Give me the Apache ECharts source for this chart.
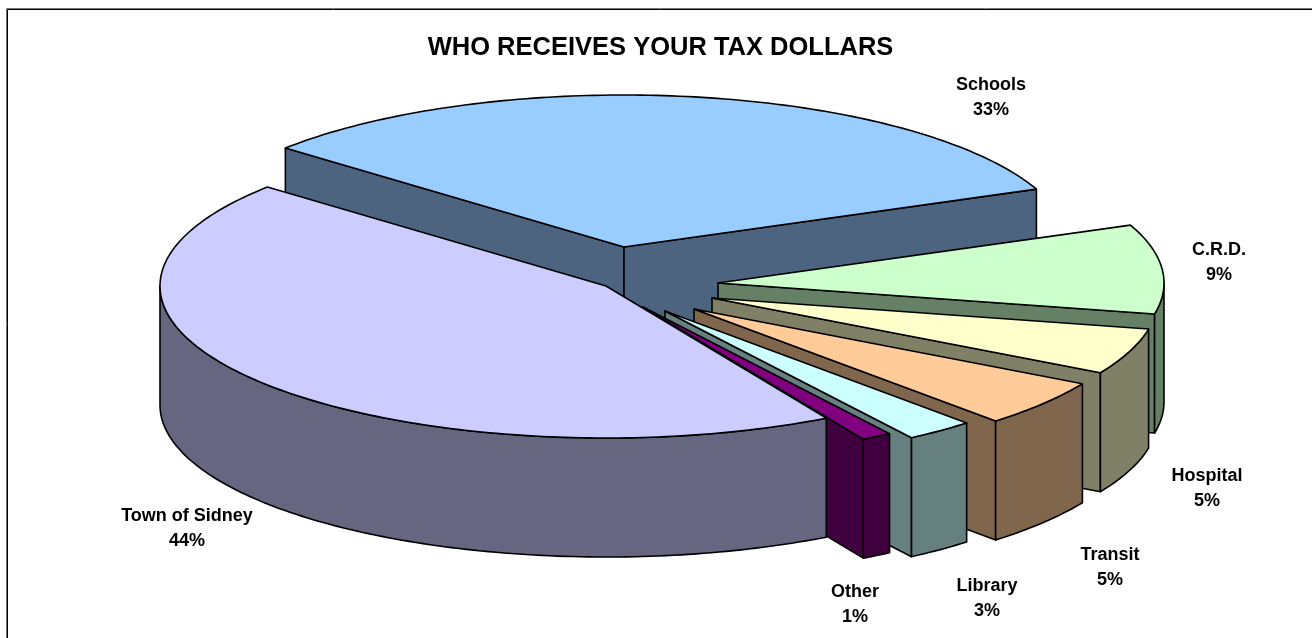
<!DOCTYPE html>
<html>
<head>
<meta charset="utf-8">
<style>html,body{margin:0;padding:0;background:#fff}#main{width:1312px;height:638px}</style>
<script src="https://cdn.jsdelivr.net/npm/echarts@6/dist/echarts.min.js"></script>
</head>
<body>
<div id="main"></div>
<script>
// Data (drawing order: back to front, clockwise from the back-left edge)
var categories = ['Schools', 'C.R.D.', 'Hospital', 'Transit', 'Library', 'Other', 'Town of Sidney'];
var shares = [32.5, 9.49, 4.9, 5.0, 2.5, 1.1, 44.49];
var topColors = ['#99CCFF', '#CCFFCC', '#FFFFCC', '#FFCC99', '#CCFFFF', '#800080', '#CCCCFF'];
var wallColors = ['#4D6480', '#668066', '#808066', '#80664D', '#668080', '#400040', '#666680'];
// Layout
var pieCenter = [606, 286], radiusX = 446, radiusY = 152, depth = 119, startDeg = 139.4;
var explode = [[18, -39], [112, -3], [106, 12], [88, 23], [59, 25], [37, 21], [0, 0]];
var labelAt = [[991, 97.5], [1219, 263], [1207, 488.5], [1110, 568], [987, 598.5], [855, 604.5], [187, 528.5]];

var total = shares.reduce(function (a, b) { return a + b; }, 0);

function renderSlice(params, api) {
  var i = params.dataIndex, before = 0;
  for (var k = 0; k < i; k++) before += shares[k];
  var t0 = startDeg - before / total * 360;
  var t1 = t0 - api.value(0) / total * 360;
  var cx = pieCenter[0] + explode[i][0], cy = pieCenter[1] + explode[i][1];
  function pt(deg, drop) {
    var r = deg * Math.PI / 180;
    return [cx + radiusX * Math.cos(r), cy - radiusY * Math.sin(r) + (drop || 0)];
  }
  function arc(a, b, drop) {
    var n = Math.max(2, Math.ceil(Math.abs(a - b))), out = [];
    for (var j = 0; j <= n; j++) out.push(pt(a + (b - a) * j / n, drop));
    return out;
  }
  var line = { stroke: '#000', lineWidth: 1.6, lineJoin: 'round' };
  function face(points, fill) {
    return { type: 'polygon', shape: { points: points }, style: Object.assign({ fill: fill }, line), silent: true };
  }
  var children = [], apex = [cx, cy], low = [cx, cy + depth];
  // Radial cut faces that look toward the viewer
  if (Math.cos(t0 * Math.PI / 180) < 0) children.push(face([apex, pt(t0), pt(t0, depth), low], wallColors[i]));
  if (Math.cos(t1 * Math.PI / 180) > 0) children.push(face([apex, pt(t1), pt(t1, depth), low], wallColors[i]));
  // Outer rim, front half only
  var a = Math.min(t0, 0), b = Math.max(t1, -180);
  if (a > b) children.push(face(arc(a, b, 0).concat(arc(b, a, depth)), wallColors[i]));
  // Top surface
  children.push(face([apex].concat(arc(t0, t1, 0)), topColors[i]));
  return { type: 'group', children: children };
}

function renderLabel(params, api) {
  var i = params.dataIndex;
  return {
    type: 'text', silent: true,
    style: {
      x: labelAt[i][0], y: labelAt[i][1], align: 'center', verticalAlign: 'middle',
      text: categories[i] + '\n' + Math.round(api.value(0)) + '%',
      font: 'bold 18px "Liberation Sans", Arial, sans-serif', lineHeight: 25, fill: '#000'
    }
  };
}

var chart = echarts.init(document.getElementById('main'), null, { renderer: 'canvas' });
chart.setOption({
  animation: false,
  backgroundColor: '#fff',
  title: {
    text: 'WHO RECEIVES YOUR TAX DOLLARS', left: 655.5, top: 43, textAlign: 'center', textVerticalAlign: 'middle',
    textStyle: { fontFamily: '"Liberation Sans", Arial, sans-serif', fontWeight: 'bold', fontSize: 25.5, color: '#000' }
  },
  graphic: [
    { type: 'polyline', silent: true, shape: { points: [[6.5, 638], [6.5, 8.5], [1312, 8.5]] }, style: { fill: 'none', stroke: '#777', lineWidth: 1 } },
    { type: 'polyline', silent: true, shape: { points: [[7.5, 638], [7.5, 9.5], [1312, 9.5]] }, style: { fill: 'none', stroke: '#000', lineWidth: 1 } }
  ],
  series: [
    { type: 'custom', coordinateSystem: 'none', renderItem: renderSlice, data: shares.map(function (v, i) { return { name: categories[i], value: [v] }; }), clip: false },
    { type: 'custom', coordinateSystem: 'none', renderItem: renderLabel, data: shares.map(function (v, i) { return { name: categories[i], value: [v] }; }), z: 5, clip: false }
  ]
});
</script>
</body>
</html>
